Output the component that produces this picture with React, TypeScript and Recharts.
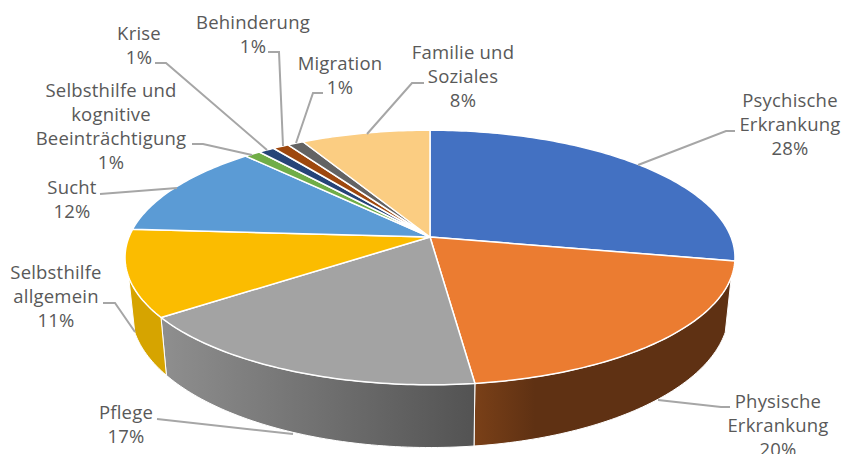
import { PieChart, Pie } from 'recharts';

// 3D pie, Excel style. Recharts has no 3D pie, so the sectors get a custom
// shape that projects the angles from Pie onto a tilted disc.

const categories = [
  'Psychische Erkrankung',
  'Physische Erkrankung',
  'Pflege',
  'Selbsthilfe allgemein',
  'Sucht',
  'Selbsthilfe und kognitive Beeinträchtigung',
  'Krise',
  'Behinderung',
  'Migration',
  'Familie und Soziales',
];
const shares = [28, 20, 17, 11, 12, 1, 1, 1, 1, 8];
const colors = ['#4371C2', '#EB7C31', '#A3A3A3', '#FBBC00', '#5B9BD5', '#70AD47', '#264478', '#9E480E', '#636363', '#FBCD82'];

// label text broken the way the original breaks it
const labelLines = [
  ['Psychische', 'Erkrankung'],
  ['Physische', 'Erkrankung'],
  ['Pflege'],
  ['Selbsthilfe', 'allgemein'],
  ['Sucht'],
  ['Selbsthilfe und', 'kognitive', 'Beeinträchtigung'],
  ['Krise'],
  ['Behinderung'],
  ['Migration'],
  ['Familie und', 'Soziales'],
];
// [center x, first baseline]
const labelAnchors = [
  [790, 107], [778, 408], [126, 419], [56, 279], [72, 194],
  [111, 97], [139, 40], [253, 29], [340, 70], [463, 59],
];
const leaders = [
  '638,165 726,131 735,131',
  '658,400 721,407 730,407',
  '157,419 293,434',
  '103,303 115,303 135,332',
  '100,194 177,188',
  '192,144 203,144 252,155',
  '155,63 166,63 267,150',
  '268,52 279,52 283,146',
  '323,93 313,93 296,143',
  '367,134 412,83 424,83',
];

const data = categories.map((name, i) => ({ name, share: shares[i], fill: colors[i] }));

const WIDTH = 842;
const HEIGHT = 454;
const CX = 430;
const CY = 237;
const RADIUS = 301;

// perspective of the disc
const TILT = 0.161;
const TOP_SQUASH = 124 / 301;
// lower rim of the wall
const LOW_RX = 295 / 301;
const LOW_RY = 133 / 301;
const LOW_DY = 52;
// part of the rim (clockwise from 12 o'clock) where the wall can be seen
const WALL_FROM = 108;
const WALL_TO = 252;

const wallGradients: Record<number, [number, string][]> = {
  0: [[0, '#5F3113'], [1, '#5F3113']],
  1: [[474, '#7A4018'], [535, '#5F3113'], [735, '#5F3113']],
  2: [[165, '#8E8E8E'], [474, '#535353']],
  3: [[127, '#D6A400'], [165, '#D6A400']],
};

function project(cx: number, cy: number, r: number, deg: number, low = false): [number, number] {
  const a = (deg * Math.PI) / 180;
  const u = Math.sin(a);
  const v = Math.cos(a);
  const d = 1 + TILT * v;
  if (low) {
    return [cx + (r * LOW_RX * u) / d, cy + LOW_DY - (r * LOW_RY * v) / d];
  }
  return [cx + (r * u) / d, cy - (r * TOP_SQUASH * v) / d];
}

function rim(cx: number, cy: number, r: number, from: number, to: number, low = false) {
  const pts: string[] = [];
  const steps = Math.max(2, Math.ceil(Math.abs(to - from)));
  for (let i = 0; i <= steps; i++) {
    const [x, y] = project(cx, cy, r, from + ((to - from) * i) / steps, low);
    pts.push(`${x.toFixed(2)} ${y.toFixed(2)}`);
  }
  return pts;
}

// eslint-disable-next-line @typescript-eslint/no-explicit-any
function DiscSector(props: any) {
  const { cx, cy, outerRadius, startAngle, endAngle, fill } = props;
  const index = data.findIndex((d) => d.name === props.name);
  const from = 90 - startAngle;
  const to = 90 - endAngle;
  const top = `M${cx} ${cy} L${rim(cx, cy, outerRadius, from, to).join(' L')} Z`;

  const wallFrom = Math.max(from, WALL_FROM);
  const wallTo = Math.min(to, WALL_TO);
  const hasWall = wallTo > wallFrom;
  let wall = '';
  if (hasWall) {
    const upper = rim(cx, cy, outerRadius, wallFrom, wallTo);
    const lower = rim(cx, cy, outerRadius, wallTo, wallFrom, true);
    wall = `M${upper.join(' L')} L${lower.join(' L')} Z`;
  }
  const stops = wallGradients[index];
  const x0 = stops ? stops[0][0] : 0;
  const x1 = stops ? stops[stops.length - 1][0] : 1;

  return (
    <g>
      {hasWall && (
        <>
          <defs>
            <linearGradient id={`wall-${index}`} gradientUnits="userSpaceOnUse" x1={x0} x2={x1} y1={0} y2={0}>
              {stops.map(([x, c]) => (
                <stop key={x} offset={x1 === x0 ? 0 : (x - x0) / (x1 - x0)} stopColor={c} />
              ))}
            </linearGradient>
          </defs>
          <path d={wall} fill={`url(#wall-${index})`} stroke="#fff" strokeWidth={1} strokeLinejoin="round" />
        </>
      )}
      <path d={top} fill={fill} stroke="#fff" strokeWidth={1.5} strokeLinejoin="round" />
    </g>
  );
}

// eslint-disable-next-line @typescript-eslint/no-explicit-any
function renderLabel(props: any) {
  const { index, value } = props;
  const [x, y] = labelAnchors[index];
  const lines = [...labelLines[index], `${value}%`];
  return (
    <text
      key={index}
      x={x}
      y={y}
      textAnchor="middle"
      fill="#595959"
      style={{ fontFamily: '"Open Sans", sans-serif', fontSize: 18.5, letterSpacing: 0.2 }}
    >
      {lines.map((line, i) => (
        <tspan key={i} x={x} dy={i === 0 ? 0 : 24}>
          {line}
        </tspan>
      ))}
    </text>
  );
}

// eslint-disable-next-line @typescript-eslint/no-explicit-any
function renderLeader(props: any) {
  return <polyline key={props.index} points={leaders[props.index]} fill="none" stroke="#A6A6A6" strokeWidth={2} />;
}

export default function App() {
  return (
    <div style={{ position: 'absolute', left: 0, top: 0, width: WIDTH, height: HEIGHT, overflow: 'hidden' }}>
      <PieChart width={WIDTH} height={HEIGHT} margin={{ top: 0, right: 0, bottom: 0, left: 0 }}>
        <Pie
          data={data}
          dataKey="share"
          nameKey="name"
          cx={CX}
          cy={CY}
          innerRadius={0}
          outerRadius={RADIUS}
          startAngle={90}
          endAngle={-270}
          isAnimationActive={false}
          shape={DiscSector}
          activeShape={DiscSector}
          inactiveShape={DiscSector}
          label={renderLabel}
          labelLine={renderLeader}
        />
      </PieChart>
    </div>
  );
}
